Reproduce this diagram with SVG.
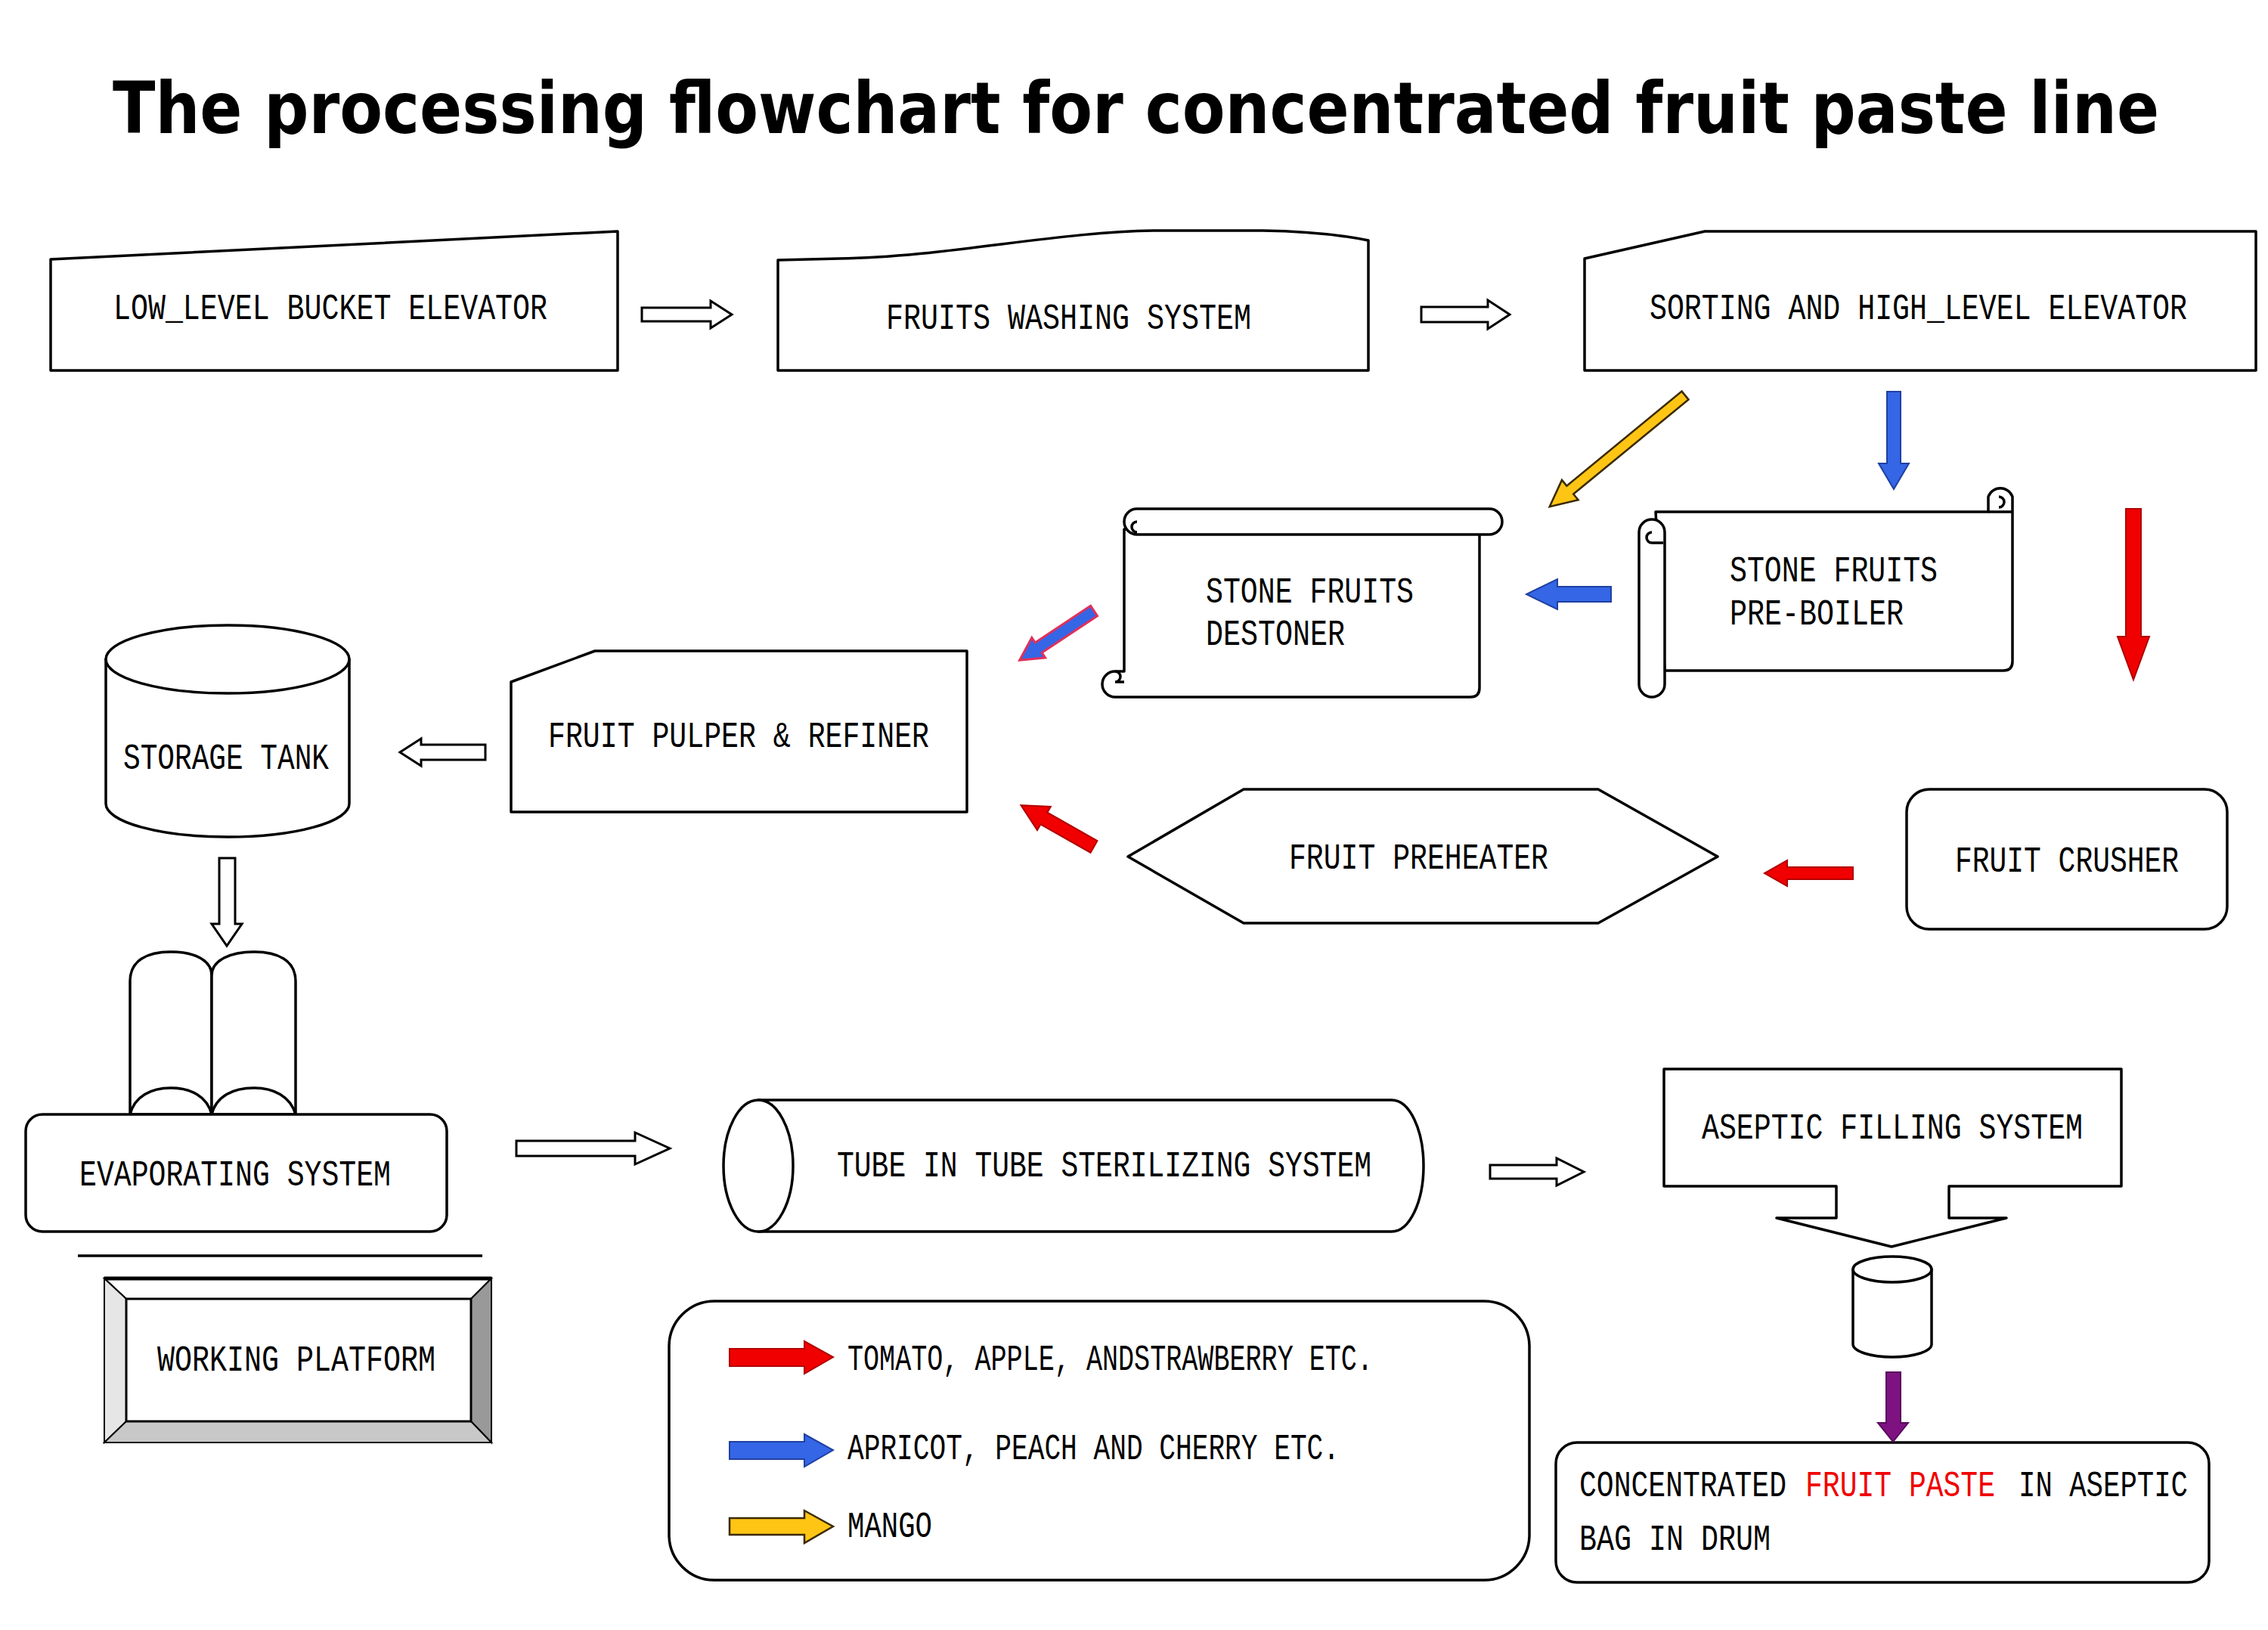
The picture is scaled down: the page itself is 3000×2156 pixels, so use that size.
<svg xmlns="http://www.w3.org/2000/svg" width="3000" height="2156" viewBox="0 0 3000 2156">
<style>
.b{fill:#fff;stroke:#000;stroke-width:3.5;stroke-linejoin:round}
.l{fill:none;stroke:#000;stroke-width:3.5}
.t{font-family:"Liberation Mono","DejaVu Sans Mono",monospace;font-size:38px;fill:#000}
.ha{fill:#fff;stroke:#000;stroke-width:3;stroke-linejoin:miter}
.red{fill:#f00000;stroke:#b00000;stroke-width:2}
.blue{fill:#3466e6;stroke:#2040a0;stroke-width:2}
.yel{fill:#ffc515;stroke:#3a2a00;stroke-width:2.5}
.pur{fill:#7d1280;stroke:#5a0a5c;stroke-width:2}
</style>
<rect width="3000" height="2156" fill="#fff"/>
<text transform="translate(149,176) scale(1,1.22)" x="0" y="0" font-family="DejaVu Sans, sans-serif" font-weight="bold" font-size="78" textLength="2707" lengthAdjust="spacingAndGlyphs">The processing flowchart for concentrated fruit paste line</text>

<g id="low-level-bucket-elevator">
<path class="b" d="M67,343 L817,306 L817,490 L67,490 Z"/>
<text class="t" transform="translate(150,422) scale(1,1.28)" textLength="574" lengthAdjust="spacingAndGlyphs">LOW_LEVEL BUCKET ELEVATOR</text>
</g>
<g id="fruits-washing-system">
<path class="b" d="M1029,344 L1110,342 C1250,340 1400,306 1530,305 L1670,305 C1740,306 1780,312 1810,318 L1810,490 L1029,490 Z"/>
<text class="t" transform="translate(1172,435) scale(1,1.28)" textLength="483" lengthAdjust="spacingAndGlyphs">FRUITS WASHING SYSTEM</text>
</g>
<g id="sorting-high-level-elevator">
<path class="b" d="M2096,342 L2255,306 L2984,306 L2984,490 L2096,490 Z"/>
<text class="t" transform="translate(2182,422) scale(1,1.28)" textLength="711" lengthAdjust="spacingAndGlyphs">SORTING AND HIGH_LEVEL ELEVATOR</text>
</g>
<g id="stone-fruits-pre-boiler">
<path class="b" d="M2190,677 L2630,677 L2630,657 A17,17 0 0 1 2662,657 L2662,875 Q2662,887 2650,887 L2202,887 Z"/>
<path class="l" d="M2630,677 L2662,677 M2644,657 A7,7 0 0 1 2644,671"/>
<rect class="b" x="2168" y="687" width="34" height="235" rx="17"/>
<path class="l" d="M2185,704 A7,7 0 0 0 2185,718 L2200,718"/>
<text class="t" transform="translate(2288,769) scale(1,1.28)" textLength="275" lengthAdjust="spacingAndGlyphs">STONE FRUITS</text>
<text class="t" transform="translate(2288,826) scale(1,1.28)" textLength="230" lengthAdjust="spacingAndGlyphs">PRE-BOILER</text>
</g>
<g id="stone-fruits-destoner">
<path class="b" d="M1487,700 L1957,700 L1957,910 Q1957,922 1945,922 L1475,922 A17,17 0 0 1 1475,888 L1487,888 Z"/>
<path class="l" d="M1475,888 A7,7 0 0 1 1475,902 L1487,902"/>
<rect class="b" x="1487" y="673" width="500" height="34" rx="17"/>
<path class="l" d="M1504,690 A7,7 0 0 0 1504,704"/>
<text class="t" transform="translate(1595,797) scale(1,1.28)" textLength="275" lengthAdjust="spacingAndGlyphs">STONE FRUITS</text>
<text class="t" transform="translate(1595,853) scale(1,1.28)" textLength="184" lengthAdjust="spacingAndGlyphs">DESTONER</text>
</g>
<g id="fruit-pulper-refiner">
<path class="b" d="M676,902 L787,861 L1279,861 L1279,1074 L676,1074 Z"/>
<text class="t" transform="translate(725,988) scale(1,1.28)" textLength="504" lengthAdjust="spacingAndGlyphs">FRUIT PULPER &amp; REFINER</text>
</g>
<g id="storage-tank">
<path class="b" d="M140,872 L140,1063 A161,44 0 0 0 462,1063 L462,872 Z"/>
<ellipse class="b" cx="301" cy="872" rx="161" ry="45"/>
<text class="t" transform="translate(163,1017) scale(1,1.28)" textLength="272" lengthAdjust="spacingAndGlyphs">STORAGE TANK</text>
</g>
<g id="fruit-preheater">
<polygon class="b" points="1492,1133 1645,1044 2114,1044 2272,1133 2114,1221 1645,1221"/>
<text class="t" transform="translate(1705,1149) scale(1,1.28)" textLength="343" lengthAdjust="spacingAndGlyphs">FRUIT PREHEATER</text>
</g>
<g id="fruit-crusher">
<rect class="b" x="2522" y="1044" width="424" height="185" rx="30"/>
<text class="t" transform="translate(2586,1153) scale(1,1.28)" textLength="296" lengthAdjust="spacingAndGlyphs">FRUIT CRUSHER</text>
</g>
<g id="evaporating-system">
<path class="b" d="M172,1474 L172,1298 C172,1270 195,1259 226,1259 C257,1259 280,1270 280,1290 L280,1474 Z"/>
<path class="b" d="M280,1474 L280,1290 C280,1270 305,1259 336,1259 C367,1259 391,1270 391,1298 L391,1474 Z"/>
<path class="l" d="M172,1474 C178,1450 200,1439 226,1439 C252,1439 274,1450 280,1474 C286,1450 308,1439 336,1439 C362,1439 384,1450 391,1474"/>
<rect class="b" x="34" y="1474" width="557" height="155" rx="22"/>
<text class="t" transform="translate(105,1568) scale(1,1.28)" textLength="412" lengthAdjust="spacingAndGlyphs">EVAPORATING SYSTEM</text>
</g>
<line x1="103" y1="1661" x2="638" y2="1661" stroke="#000" stroke-width="3.5"/>
<g id="working-platform">
<polygon points="138,1691 650,1691 623,1718 167,1718" fill="#fff" stroke="#000" stroke-width="2"/>
<polygon points="138,1691 167,1718 167,1880 138,1908" fill="#e6e6e6" stroke="#000" stroke-width="2"/>
<polygon points="650,1691 650,1908 623,1880 623,1718" fill="#999" stroke="#000" stroke-width="2"/>
<polygon points="138,1908 650,1908 623,1880 167,1880" fill="#c8c8c8" stroke="#000" stroke-width="2"/>
<rect x="167" y="1718" width="456" height="162" fill="#fff" stroke="#000" stroke-width="3"/>
<line x1="138" y1="1691" x2="650" y2="1691" stroke="#000" stroke-width="5"/>
<text class="t" transform="translate(208,1813) scale(1,1.28)" textLength="368" lengthAdjust="spacingAndGlyphs">WORKING PLATFORM</text>
</g>
<g id="tube-in-tube-sterilizing-system">
<path class="b" d="M1003,1455 L1841,1455 A42,87 0 0 1 1841,1629 L1003,1629 Z"/>
<ellipse class="b" cx="1003" cy="1542" rx="46" ry="87"/>
<text class="t" transform="translate(1107,1556) scale(1,1.28)" textLength="707" lengthAdjust="spacingAndGlyphs">TUBE IN TUBE STERILIZING SYSTEM</text>
</g>
<g id="aseptic-filling-system">
<path class="b" d="M2201,1414 L2806,1414 L2806,1569 L2578,1569 L2578,1611 L2654,1611 L2502,1649 L2350,1611 L2429,1611 L2429,1569 L2201,1569 Z"/>
<text class="t" transform="translate(2251,1506) scale(1,1.28)" textLength="504" lengthAdjust="spacingAndGlyphs">ASEPTIC FILLING SYSTEM</text>
</g>
<g id="drum">
<path class="b" d="M2451,1679 L2451,1778 A52,17 0 0 0 2555,1778 L2555,1679 Z"/>
<ellipse class="b" cx="2503" cy="1679" rx="52" ry="17"/>
</g>
<g id="concentrated-fruit-paste">
<rect class="b" x="2058" y="1908" width="864" height="185" rx="28"/>
<text class="t" transform="translate(2089,1979) scale(1,1.28)" textLength="274" lengthAdjust="spacingAndGlyphs">CONCENTRATED</text>
<text class="t" transform="translate(2388,1979) scale(1,1.28)" textLength="251" lengthAdjust="spacingAndGlyphs" style="fill:#f00000">FRUIT PASTE</text>
<text class="t" transform="translate(2670,1979) scale(1,1.28)" textLength="224" lengthAdjust="spacingAndGlyphs">IN ASEPTIC</text>
<text class="t" transform="translate(2089,2050) scale(1,1.28)" textLength="253" lengthAdjust="spacingAndGlyphs">BAG IN DRUM</text>
</g>
<g id="legend">
<rect class="b" x="885" y="1721" width="1138" height="369" rx="60"/>
<polygon class="red" points="965,1784 1064,1784 1064,1774 1102,1795 1064,1817 1064,1807 965,1807"/>
<polygon class="blue" points="965,1907 1064,1907 1064,1897 1102,1918 1064,1940 1064,1930 965,1930"/>
<polygon class="yel" points="965,2008 1064,2008 1064,1998 1102,2019 1064,2041 1064,2030 965,2030"/>
<text class="t" transform="translate(1121,1812) scale(1,1.28)" textLength="695" lengthAdjust="spacingAndGlyphs">TOMATO, APPLE, ANDSTRAWBERRY ETC.</text>
<text class="t" transform="translate(1121,1930) scale(1,1.28)" textLength="651" lengthAdjust="spacingAndGlyphs">APRICOT, PEACH AND CHERRY ETC.</text>
<text class="t" transform="translate(1121,2033) scale(1,1.28)" textLength="112" lengthAdjust="spacingAndGlyphs">MANGO</text>
</g>

<g id="connectors">
<polygon class="ha" points="849,407 940,407 940,398 968,416 940,434 940,425 849,425"/>
<polygon class="ha" points="1880,406 1968,406 1968,397 1997,416 1968,435 1968,426 1880,426"/>
<polygon class="yel" transform="translate(2229,523) rotate(140.6)" points="0,-7 197,-7 197,-17 232,0 197,17 197,7 0,7"/>
<polygon class="blue" points="2496,518 2514,518 2514,613 2525,613 2505,647 2485,613 2496,613"/>
<polygon class="red" points="2812,673 2832,673 2832,842 2843,842 2822,899 2801,842 2812,842"/>
<polygon class="blue" points="2131,776 2060,776 2060,766 2019,786 2060,806 2060,796 2131,796"/>
<polygon fill="#3466e6" stroke="#e0305a" stroke-width="3" transform="translate(1447,808) rotate(146.4)" points="0,-8 88,-8 88,-16 118,0 88,16 88,8 0,8"/>
<polygon class="red" transform="translate(1447,1120) rotate(209.6)" points="0,-9 76,-9 76,-18 111,0 76,18 76,9 0,9"/>
<polygon class="red" points="2451,1147 2364,1147 2364,1138 2334,1155 2364,1172 2364,1163 2451,1163"/>
<polygon class="ha" points="642,985 557,985 557,977 529,995 557,1013 557,1005 642,1005"/>
<polygon class="ha" points="290,1135 311,1135 311,1222 320,1222 300,1251 280,1222 290,1222"/>
<polygon class="ha" points="683,1509 840,1509 840,1498 886,1519 840,1540 840,1529 683,1529"/>
<polygon class="ha" points="1971,1541 2059,1541 2059,1532 2095,1550 2059,1568 2059,1559 1971,1559"/>
<polygon class="pur" points="2495,1815 2514,1815 2514,1882 2524,1882 2504,1907 2484,1882 2495,1882"/>
</g>
</svg>
